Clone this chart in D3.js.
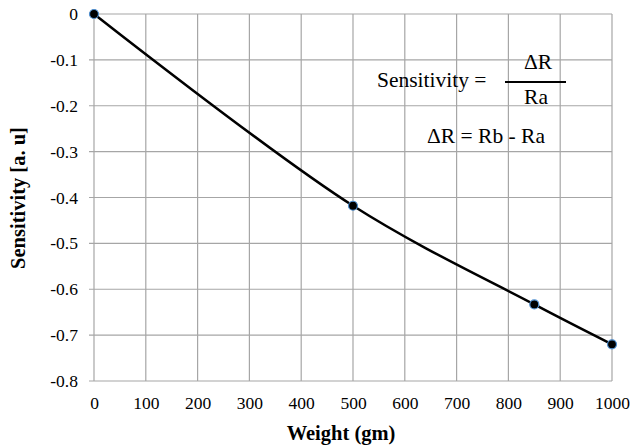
<!DOCTYPE html>
<html>
<head>
<meta charset="utf-8">
<script src="https://cdn.jsdelivr.net/npm/d3@7"></script>
<style>
  body { margin: 0; background: #fff; }
</style>
</head>
<body>
<div id="area"></div>
<script>
var weights = [0, 500, 850, 1000];
var sensitivity = [0, -0.418, -0.633, -0.72];
var xTicks = [0, 100, 200, 300, 400, 500, 600, 700, 800, 900, 1000];
var yTicks = [0, -0.1, -0.2, -0.3, -0.4, -0.5, -0.6, -0.7, -0.8];

var serif = 'Liberation Serif';

var margin = {top: 14, right: 20, bottom: 67, left: 94},
    width = 632 - margin.left - margin.right,
    height = 448 - margin.top - margin.bottom;

var svg = d3.select('#area').append('svg')
            .attr('width', 632)
            .attr('height', 448)
            .attr('font-family', serif);
var g = svg.append('g')
           .attr('transform', 'translate(' + margin.left + ',' + margin.top + ')');

var x = d3.scaleLinear().domain([0, 1000]).range([0, width]);
var y = d3.scaleLinear().domain([-0.8, 0]).range([height, 0]);

// grid
g.append('g').selectAll('line').data(xTicks).enter().append('line')
 .attr('x1', d => x(d)).attr('x2', d => x(d))
 .attr('y1', 0).attr('y2', height)
 .attr('stroke', '#a6a6a6').attr('stroke-width', 1.2);
g.append('g').selectAll('line').data(yTicks).enter().append('line')
 .attr('x1', -5).attr('x2', width)
 .attr('y1', d => y(d)).attr('y2', d => y(d))
 .attr('stroke', '#a6a6a6').attr('stroke-width', 1.2);

var xAxis = d3.axisBottom(x).tickValues(xTicks).tickSize(0).tickPadding(12)
              .tickFormat(d3.format('d'));
var yAxis = d3.axisLeft(y).tickValues(yTicks).tickSize(0).tickPadding(16)
              .tickFormat(d => d === 0 ? '0' : d3.format('.1f')(d).replace('−', '-'));

var gx = g.append('g').attr('transform', 'translate(0,' + height + ')').call(xAxis);
var gy = g.append('g').call(yAxis);
[gx, gy].forEach(function(a) {
  a.attr('font-family', serif).attr('font-size', 17.5);
  a.select('.domain').remove();
  a.selectAll('text').attr('fill', '#000');
});
gx.selectAll('text').attr('dy', '0.9em');

// line
var line = d3.line()
             .x((d, i) => x(weights[i]))
             .y(d => y(d))
             .curve(d3.curveCatmullRom.alpha(0.5));
g.append('path').datum(sensitivity)
 .attr('d', line).attr('fill', 'none')
 .attr('stroke', '#000').attr('stroke-width', 2.5);

g.selectAll('circle.pt').data(sensitivity).enter().append('circle')
 .attr('class', 'pt')
 .attr('cx', (d, i) => x(weights[i])).attr('cy', d => y(d))
 .attr('r', 4.5).attr('fill', '#000')
 .attr('stroke', '#4f8fd0').attr('stroke-width', 1.2);

// axis titles
svg.append('text').attr('x', margin.left + width / 2 - 12).attr('y', 440)
   .attr('text-anchor', 'middle').attr('font-size', 20.5).attr('font-weight', 'bold')
   .text('Weight (gm)');
svg.append('text').attr('transform', 'translate(25,198) rotate(-90)')
   .attr('text-anchor', 'middle').attr('font-size', 20.5).attr('font-weight', 'bold')
   .text('Sensitivity [a. u]');

// formula annotation
svg.append('text').attr('x', 377).attr('y', 87).attr('font-size', 21.5).text('Sensitivity =');
svg.append('line').attr('x1', 505).attr('x2', 566).attr('y1', 82).attr('y2', 82)
   .attr('stroke', '#000').attr('stroke-width', 2);
svg.append('text').attr('x', 538).attr('y', 69).attr('text-anchor', 'middle').attr('font-size', 21.5).text('ΔR');
svg.append('text').attr('x', 536).attr('y', 104).attr('text-anchor', 'middle').attr('font-size', 21.5).text('Ra');
svg.append('text').attr('x', 427).attr('y', 143).attr('font-size', 21.5).text('ΔR = Rb - Ra');
</script>
</body>
</html>
